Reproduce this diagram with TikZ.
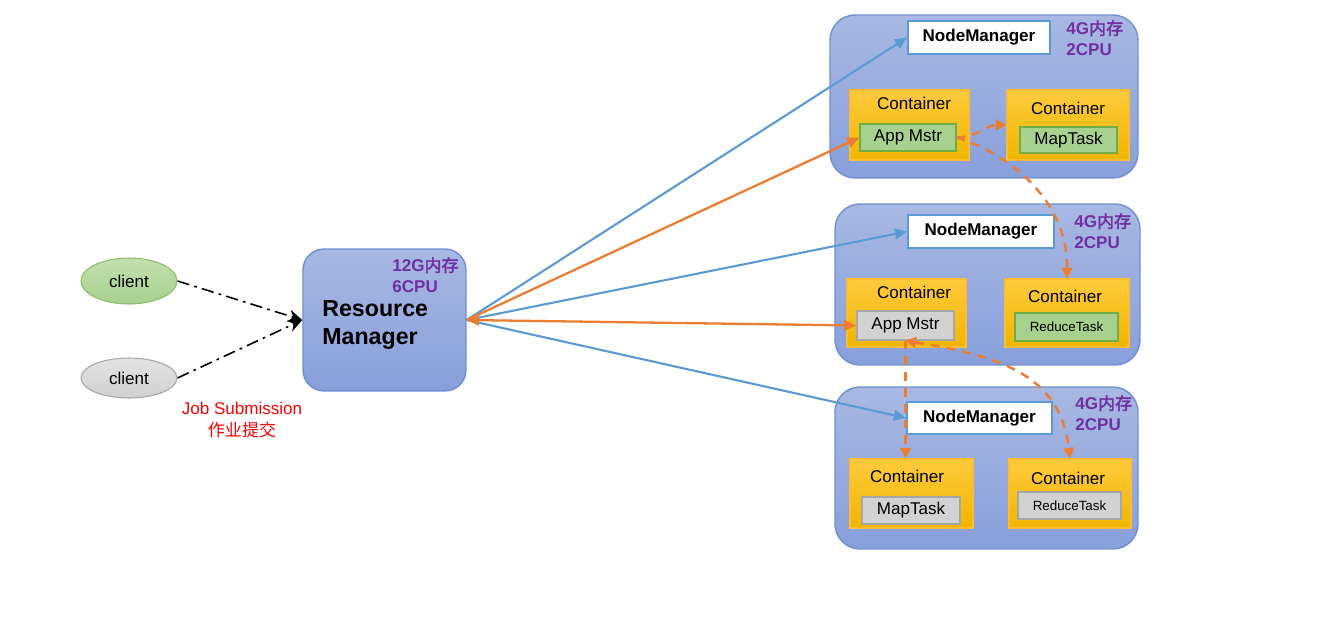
\documentclass[tikz,border=0pt]{standalone}
\usepackage{fontspec}
\setmainfont{Liberation Sans}
\newfontfamily\cjk[AutoFakeBold=2.5]{Noto Sans CJK SC}
\usetikzlibrary{arrows.meta,positioning,shapes.geometric}

\definecolor{nodetop}{HTML}{A8B8E3}
\definecolor{nodebot}{HTML}{889FDA}
\definecolor{nodeedge}{HTML}{6F8FD2}
\definecolor{conttop}{HTML}{FFCB3D}
\definecolor{contbot}{HTML}{EFB500}
\definecolor{taskgreen}{HTML}{A9D18E}
\definecolor{taskgreenedge}{HTML}{70AD47}
\definecolor{taskgray}{HTML}{D2D2D2}
\definecolor{taskgrayedge}{HTML}{A6A6A6}
\definecolor{lineblue}{HTML}{5B9BD5}
\definecolor{lineorange}{HTML}{ED7D31}
\definecolor{memopurple}{HTML}{7030A0}
\definecolor{clientgreen}{HTML}{A9D18E}
\definecolor{clientgray}{HTML}{D0D0D0}

\newcommand{\stdfont}{\fontsize{9.7}{11.6}\selectfont}

\begin{document}
\begin{tikzpicture}[x=0.02cm,y=-0.02cm,
  hostbox/.style={draw=nodeedge, line width=0.8pt, rounded corners=0.5cm, top color=nodetop, bottom color=nodebot, inner sep=0pt},
  nmbox/.style={draw=lineblue, line width=1pt, fill=white, inner sep=0pt, font=\stdfont\bfseries},
  contbox/.style={draw=conttop!80!orange, line width=0.6pt, top color=conttop, bottom color=contbot, inner sep=0pt, minimum height=1.38cm},
  greentask/.style={draw=taskgreenedge, line width=0.7pt, fill=taskgreen, inner sep=0pt, font=\stdfont},
  graytask/.style={draw=taskgrayedge, line width=0.7pt, fill=taskgray, inner sep=0pt, font=\stdfont},
  conttext/.style={font=\stdfont, inner sep=0pt},
  memo/.style={text=memopurple, font=\stdfont\bfseries, align=left, inner sep=0pt},
  clientnode/.style={ellipse, line width=0.6pt, inner sep=0pt, minimum width=1.92cm, font=\stdfont},
  submit/.style={black, line width=0.9pt, dash pattern=on 7pt off 3pt on 1.5pt off 3pt, -{Stealth[length=8pt,width=7pt]}},
  bluearrow/.style={lineblue, line width=1.2pt, -{Triangle[length=7pt,width=6pt]}},
  orangearrow/.style={lineorange, line width=1.3pt, -{Triangle[length=7pt,width=6pt]}},
  taskflow/.style={lineorange, line width=1.4pt, dash pattern=on 5pt off 4pt, -{Triangle[length=6pt,width=6pt]}}]

\useasboundingbox (0,0) rectangle (1329,632);

% clients
\node[clientnode, draw=taskgreenedge!80, top color=clientgreen!70, bottom color=clientgreen, minimum height=0.92cm] (client1) at (129,281) {client};
\node[clientnode, draw=taskgrayedge, top color=clientgray!60, bottom color=clientgray, minimum height=0.8cm] (client2) at (129,378) {client};
\node[text=red, font=\stdfont, align=center, inner sep=0pt] (jobsub) at (242,420) {Job Submission\\[1pt]{\cjk 作业提交}};

% resource manager
\node[hostbox, rounded corners=0.42cm, minimum width=3.26cm, minimum height=2.84cm] (rm) at (384.5,320) {};
\node[font=\fontsize{13.2}{16}\selectfont\bfseries, align=left, inner sep=0pt, anchor=west] (rmtext) at (322,325) {Resource\\Manager};
\node[memo, anchor=north west] (rmmemo) at (392,257) {12G{\cjk 内存}\\6CPU};

% node 1
\node[hostbox, minimum width=6.16cm, minimum height=3.26cm] (host1) at (984,96.5) {};
\node[nmbox, minimum width=2.84cm, minimum height=0.66cm] (nm1) at (979,37.5) {NodeManager};
\node[memo, anchor=north west] (memo1) at (1066,20) {4G{\cjk 内存}\\2CPU};
\node[contbox, minimum width=2.38cm, minimum height=1.4cm] (c1a) at (909.5,125) {};
\node[conttext] at (914,103) {Container};
\node[greentask, minimum width=1.92cm, minimum height=0.54cm] (app1) at (908,137.5) {App Mstr};
\node[contbox, minimum width=2.44cm, minimum height=1.4cm] (c1b) at (1068,125) {};
\node[conttext] at (1068,108) {Container};
\node[greentask, minimum width=1.94cm, minimum height=0.52cm] (map1) at (1068.5,140) {MapTask};

% node 2
\node[hostbox, minimum width=6.10cm, minimum height=3.22cm] (host2) at (987.5,284.5) {};
\node[nmbox, minimum width=2.92cm, minimum height=0.66cm] (nm2) at (981,231.5) {NodeManager};
\node[memo, anchor=north west] (memo2) at (1074,213) {4G{\cjk 内存}\\2CPU};
\node[contbox, minimum width=2.38cm, minimum height=1.36cm] (c2a) at (906.5,313) {};
\node[conttext] at (914,292) {Container};
\node[graytask, minimum width=1.94cm, minimum height=0.58cm] (app2) at (905.5,325.5) {App Mstr};
\node[contbox, minimum width=2.48cm, minimum height=1.36cm] (c2b) at (1067,313) {};
\node[conttext] at (1065,296) {Container};
\node[greentask, font=\fontsize{7.6}{9}\selectfont, minimum width=2.06cm, minimum height=0.56cm] (red2) at (1066.5,327) {ReduceTask};

% node 3
\node[hostbox, minimum width=6.06cm, minimum height=3.24cm] (host3) at (986.5,468) {};
\node[nmbox, minimum width=2.9cm, minimum height=0.64cm] (nm3) at (979.5,418) {NodeManager};
\node[memo, anchor=north west] (memo3) at (1075,395) {4G{\cjk 内存}\\2CPU};
\node[contbox, minimum width=2.46cm] (c3a) at (911.5,493.5) {};
\node[conttext] at (907,476) {Container};
\node[graytask, minimum width=1.96cm, minimum height=0.54cm] (map3) at (911,510.5) {MapTask};
\node[contbox, minimum width=2.44cm] (c3b) at (1070,493.5) {};
\node[conttext] at (1068,478) {Container};
\node[graytask, font=\fontsize{7.6}{9}\selectfont, minimum width=2.06cm, minimum height=0.54cm] (red3) at (1069.5,505.5) {ReduceTask};

% job submission
\draw[submit] (client1.east) -- (rm.west);
\draw[submit] (client2.east) -- (rm.west);

% resource manager to node managers
\draw[bluearrow] (rm.east) -- (nm1.west);
\draw[bluearrow] (rm.east) -- (nm2.west);
\draw[bluearrow] (rm.east) -- (nm3.west);
\draw[orangearrow] (rm.east) -- (app1.west);
\draw[orangearrow, {Triangle[length=7pt,width=6pt]}-{Triangle[length=7pt,width=6pt]}] (rm.east) -- (app2.west);

% app master to tasks
\draw[taskflow] (app1.east) to[out=0,in=180] (c1b.west);
\draw[taskflow] (app1.east) .. controls (1000,150) and (1068,195) .. (c2b.north);
\draw[taskflow] (app2.south) -- (app2.south |- c3a.north);
\draw[taskflow, {Triangle[length=6pt,width=6pt]}-{Triangle[length=6pt,width=6pt]}] (app2.south) .. controls (990,355) and (1060,370) .. (c3b.north);
\end{tikzpicture}
\end{document}
